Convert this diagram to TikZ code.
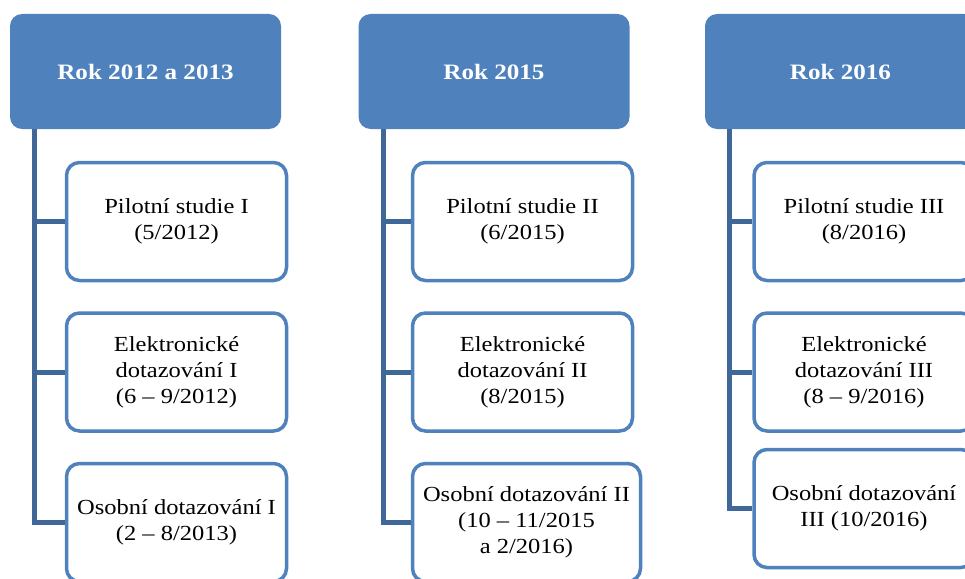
\documentclass[tikz,border=0pt]{standalone}
\usepackage{fontspec}
\setmainfont{Liberation Serif}[FakeStretch=1.14]
\definecolor{modra}{HTML}{4F81BD}
\definecolor{tmava}{HTML}{3F6898}
\tikzset{
  rok/.style={fill=modra, rounded corners=12pt, minimum width=271pt, minimum height=115pt,
    text=white, font=\fontsize{22}{26}\selectfont\bfseries},
  krok/.style={draw=modra, line width=3.5pt, fill=white, rounded corners=13pt,
    minimum width=220pt, minimum height=118pt, align=center, font=\fontsize{21.5}{26}\selectfont},
  spoj/.style={draw=tmava, line width=5pt}
}
\begin{document}
\begin{tikzpicture}[x=1pt,y=-1pt]
    \clip (0,0) rectangle (965,578);

    \node[rok] (rok1) at (145.5,71.5) {Rok 2012 a 2013};
    \node[krok] (pil1) at (176.5,221.5) {Pilotní studie I\\(5/2012)};
    \node[krok] (ele1) at (176.5,372) {Elektronické\\dotazování I\\(6 – 9/2012)};
    \node[krok] (oso1) at (176.5,522.5) {Osobní dotazování I\\(2 – 8/2013)};

    \node[rok] (rok2) at (494,71.5) {Rok 2015};
    \node[krok] (pil2) at (522.5,221.5) {Pilotní studie II\\(6/2015)};
    \node[krok] (ele2) at (522.5,372) {Elektronické\\dotazování II\\(8/2015)};
    \node[krok, minimum width=228pt] (oso2) at (526.5,522.5) {Osobní dotazování II\\(10 – 11/2015\\a 2/2016)};

    \node[rok] (rok3) at (840.5,71.5) {Rok 2016};
    \node[krok] (pil3) at (864,221.5) {Pilotní studie III\\(8/2016)};
    \node[krok] (ele3) at (864,372) {Elektronické\\dotazování III\\(8 – 9/2016)};
    \node[krok] (oso3) at (864,508.5) {Osobní dotazování\\III (10/2016)};

    % spojnice
    \foreach \s in {1,2,3}{
      \coordinate (osa\s) at ([xshift=25pt]rok\s.south west);
      \draw[spoj] (osa\s) |- (oso\s.west);
      \draw[spoj] (osa\s |- pil\s.west) -- (pil\s.west);
      \draw[spoj] (osa\s |- ele\s.west) -- (ele\s.west);
    }
\end{tikzpicture}
\end{document}
